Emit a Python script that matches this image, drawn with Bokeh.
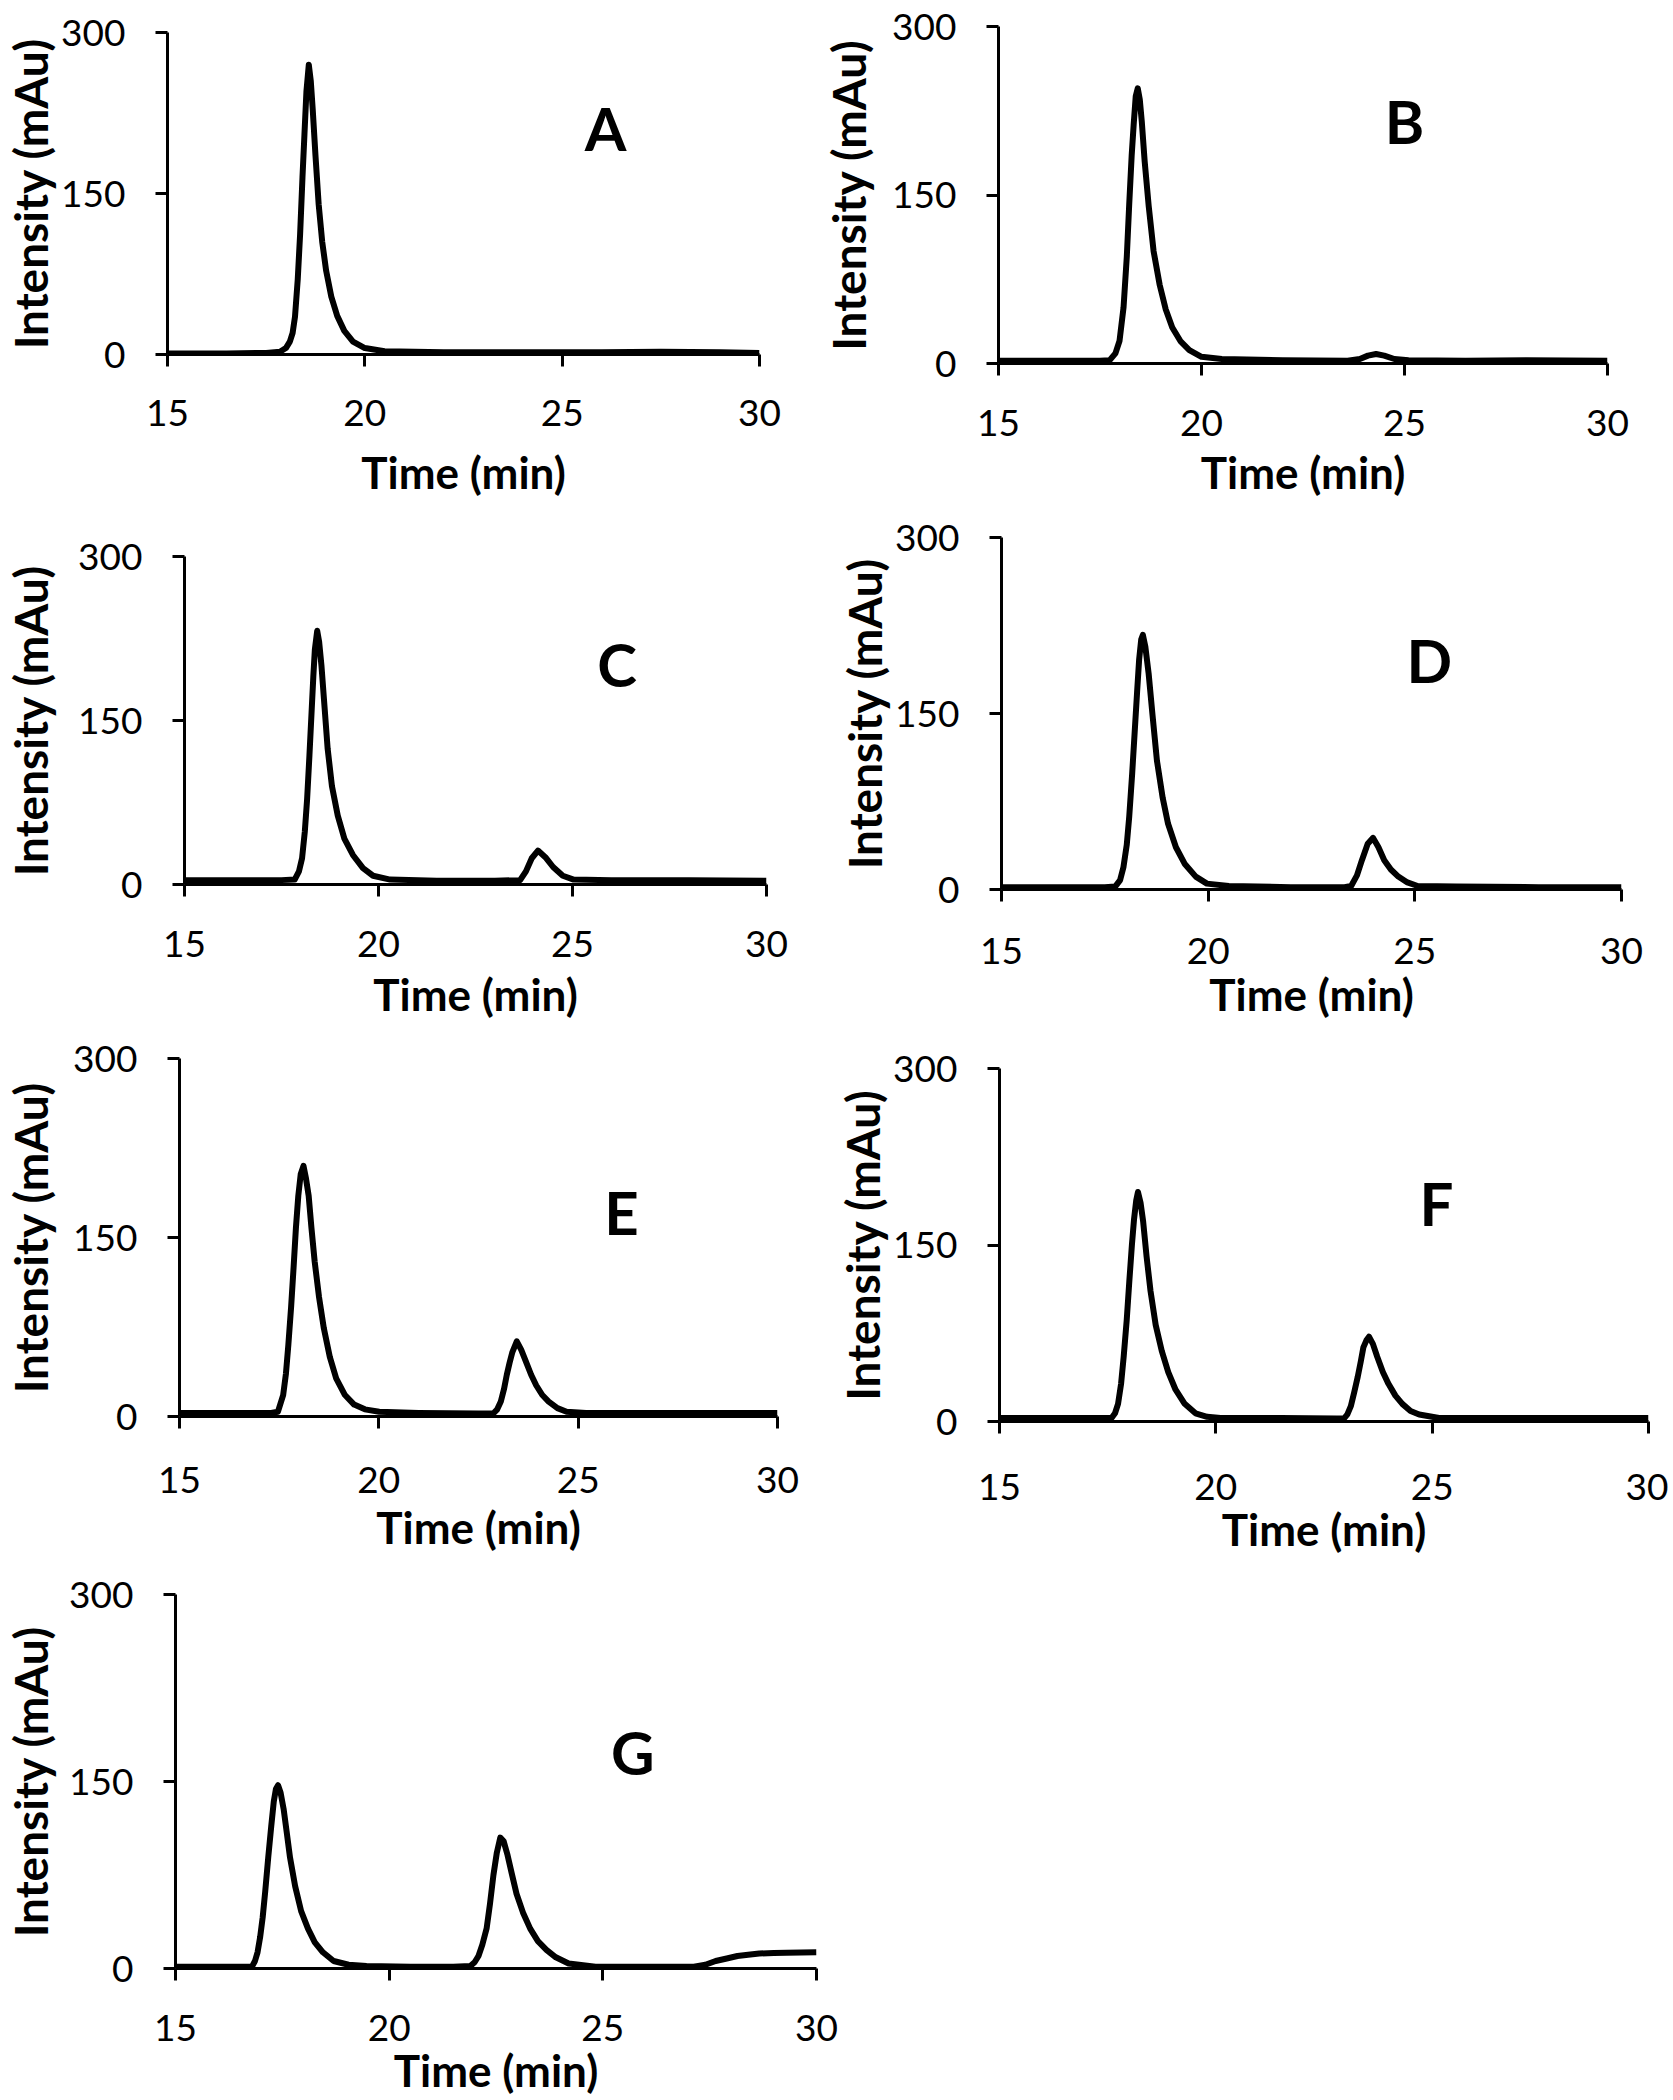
from bokeh.plotting import figure
from bokeh.layouts import column, row
from bokeh.models import Range1d, FixedTicker, Label
from bokeh.embed import file_html
from bokeh.resources import INLINE

# ---------------- data ----------------
x_ticks = [15, 20, 25, 30]
y_ticks = [0, 150, 300]
x_title = "Time (min)"
y_title = "Intensity (mAu)"

t_A = [15.0, 16.5, 17.5, 17.85, 18.0, 18.1, 18.17, 18.23, 18.30, 18.36, 18.42, 18.47, 18.52, 18.58, 18.63,
       18.68, 18.75, 18.83, 18.92, 19.02, 19.15, 19.30, 19.48, 19.70, 20.0, 20.5, 22.0, 24.0, 26.0, 27.5, 29.0, 30.0]
i_A = [1, 1, 1.5, 2.5, 6, 12, 20, 35, 70, 112, 165, 205, 245, 270, 255,
       228, 185, 140, 105, 78, 54, 36, 22, 12, 6, 3, 2, 2, 2, 2.5, 2, 1.5]

t_B = [15.0, 16.5, 17.5, 17.74, 17.88, 17.98, 18.08, 18.16, 18.22, 18.28, 18.33, 18.38, 18.43, 18.48, 18.53,
       18.60, 18.70, 18.82, 18.97, 19.12, 19.28, 19.48, 19.70, 20.0, 20.5, 22.0, 23.6, 23.9, 24.1, 24.3, 24.5,
       24.75, 25.1, 26.5, 28.0, 30.0]
i_B = [2.5, 2.5, 2.5, 3, 9, 20, 50, 95, 142, 185, 213, 238, 245, 235, 215,
       180, 140, 100, 70, 48, 32, 20, 12, 6, 4, 3, 2.5, 4, 7, 8.5, 7,
       4, 3, 2.5, 3, 2.5]

t_C = [15.0, 16.5, 17.5, 17.84, 17.95, 18.03, 18.10, 18.16, 18.22, 18.27, 18.32, 18.36, 18.42, 18.47, 18.53,
       18.61, 18.69, 18.80, 18.95, 19.12, 19.34, 19.60, 19.86, 20.3, 21.5, 23.0, 23.65, 23.8, 23.95, 24.11,
       24.3, 24.5, 24.75, 25.03, 26.0, 28.0, 30.0]
i_C = [4, 4, 4, 4.5, 12, 24, 48, 78, 118, 154, 190, 215, 232, 222, 200,
       162, 124, 90, 63, 42, 27, 15, 8, 4.5, 3.5, 3.5, 4, 12, 24, 31,
       25, 16, 8, 4.5, 4, 4, 3.5]

t_D = [15.0, 16.5, 17.5, 17.75, 17.87, 17.95, 18.03, 18.09, 18.16, 18.22, 18.28, 18.33, 18.38, 18.42, 18.48,
       18.56, 18.65, 18.76, 18.90, 19.03, 19.22, 19.43, 19.70, 19.97, 20.5, 22.0, 23.3, 23.46, 23.6, 23.72,
       23.86, 23.99, 24.12, 24.26, 24.42, 24.6, 24.82, 25.07, 26.0, 28.0, 30.0]
i_D = [2, 2, 2, 2.5, 8, 19, 38, 62, 98, 133, 168, 196, 213, 217, 207,
       184, 150, 110, 78, 56, 36, 22, 11, 5, 3, 2, 2, 3, 12, 25,
       39, 44, 36, 25, 17, 11, 6, 3, 2.5, 2, 2]

t_E = [15.0, 16.5, 17.3, 17.47, 17.60, 17.67, 17.73, 17.80, 17.86, 17.92, 17.98, 18.04, 18.11, 18.17, 18.24,
       18.31, 18.39, 18.50, 18.62, 18.77, 18.93, 19.15, 19.38, 19.65, 20.01, 21.0, 22.5, 22.87, 22.97, 23.06,
       23.14, 23.21, 23.28, 23.35, 23.46, 23.57, 23.69, 23.82, 23.95, 24.10, 24.26, 24.48, 24.71, 25.2, 27.0, 30.0]
i_E = [3, 3, 3, 4, 18, 36, 60, 92, 124, 158, 185, 203, 210, 200, 185,
       158, 130, 100, 74, 50, 32, 18, 10, 6, 4, 3, 2.5, 2.5, 6, 12.5,
       23, 35, 45, 54, 63, 56, 46, 35, 26, 18, 12.5, 7, 4, 3, 3, 3]

t_F = [15.0, 16.5, 17.4, 17.59, 17.67, 17.74, 17.81, 17.87, 17.94, 18.00, 18.06, 18.11, 18.16, 18.20, 18.26,
       18.32, 18.40, 18.49, 18.61, 18.75, 18.90, 19.07, 19.28, 19.53, 19.80, 20.11, 21.5, 22.8, 22.96, 23.04,
       23.12, 23.20, 23.28, 23.35, 23.41, 23.48, 23.54, 23.63, 23.73, 23.86, 23.99, 24.15, 24.31, 24.50, 24.70,
       25.16, 27.0, 30.0]
i_F = [3, 3, 3, 3, 7, 15, 32, 55, 86, 119, 150, 172, 188, 195, 186,
       170, 140, 111, 82, 60, 42, 27, 15, 7, 4, 3, 3, 2.5, 2.5, 6,
       13, 25, 38, 51, 63, 69, 72, 66, 55, 42, 32, 22, 15, 9, 6,
       3, 3, 3]

t_G = [15.0, 16.0, 16.79, 16.86, 16.92, 16.98, 17.04, 17.10, 17.17, 17.24, 17.30, 17.35, 17.40, 17.46, 17.53,
       17.60, 17.68, 17.80, 17.94, 18.10, 18.26, 18.45, 18.70, 19.05, 19.47, 20.5, 21.5, 21.9, 22.00, 22.09,
       22.18, 22.28, 22.36, 22.44, 22.52, 22.60, 22.68, 22.77, 22.87, 22.98, 23.13, 23.30, 23.48, 23.68, 23.90,
       24.20, 24.83, 26.0, 27.13, 27.4, 27.64, 27.9, 28.15, 28.4, 28.66, 29.0, 29.3, 29.65, 30.0]
i_G = [1.5, 1.5, 1.5, 6, 13, 25, 41, 62, 89, 114, 134, 144, 147, 141, 128,
       110, 89, 66, 46, 32, 21, 13, 6, 3, 2, 1.5, 1.5, 2, 5, 10,
       19, 32, 52, 75, 93, 105, 102, 91, 76, 60, 45, 32, 22, 15, 9,
       4, 1.5, 1.5, 1.5, 3, 6, 8, 10, 11, 12, 12.5, 12.6, 12.8, 13]

panel_letters = ["A", "B", "C", "D", "E", "F", "G"]
letter_pos = [(26.1, 211), (25.0, 216), (26.15, 202), (25.35, 196), (26.09, 171), (25.1, 186), (25.7, 174)]

FONT = "Lato"


def make_panel(t, inten, letter, lpos, width, height, bl, br, bt, bb, yals, xls, xals):
    p = figure(width=width, height=height, x_range=Range1d(15, 30), y_range=Range1d(0, 300),
               output_backend="svg", toolbar_location=None,
               min_border_left=bl, min_border_right=br, min_border_top=bt, min_border_bottom=bb,
               background_fill_color="white", border_fill_color="white")
    p.outline_line_color = None
    p.xgrid.visible = False
    p.ygrid.visible = False
    p.line(t, inten, line_color="black", line_width=6, line_join="round")

    for ax in (p.xaxis[0], p.yaxis[0]):
        ax.axis_line_width = 3
        ax.axis_line_color = "black"
        ax.major_tick_line_width = 3
        ax.major_tick_line_color = "black"
        ax.major_tick_in = 0
        ax.major_tick_out = 12
        ax.minor_tick_out = 0
        ax.minor_tick_in = 0
        ax.major_label_text_font = FONT
        ax.major_label_text_font_size = "37px"
        ax.major_label_text_color = "black"
        ax.axis_label_text_font = FONT
        ax.axis_label_text_font_style = "bold"
        ax.axis_label_text_color = "black"

    p.xaxis[0].axis_label_text_font_size = "44px"
    p.yaxis[0].axis_label_text_font_size = "46px"
    p.xaxis[0].ticker = FixedTicker(ticks=x_ticks)
    p.yaxis[0].ticker = FixedTicker(ticks=y_ticks)
    p.xaxis[0].axis_label = x_title
    p.yaxis[0].axis_label = y_title
    p.yaxis[0].major_label_standoff = 30
    p.yaxis[0].axis_label_standoff = yals
    p.xaxis[0].major_label_standoff = xls
    p.xaxis[0].axis_label_standoff = xals

    p.add_layout(Label(x=lpos[0], y=lpos[1], text=letter, text_font=FONT, text_font_size="60px",
                       text_font_style="bold", text_color="black", text_align="center",
                       text_baseline="middle"))
    return column(p, spacing=0)


cA = make_panel(t_A, i_A, "A", letter_pos[0], 808, 512, 166, 49, 32, 158, 0, 33, 17)
cB = make_panel(t_B, i_B, "B", letter_pos[1], 860, 512, 190, 61, 26, 149, 13, 34, 7)
cC = make_panel(t_C, i_C, "C", letter_pos[2], 808, 518, 182, 42, 44, 146, 17, 34, 8)
cD = make_panel(t_D, i_D, "D", letter_pos[3], 860, 518, 193, 47, 25, 141, 0, 36, 1)
cE = make_panel(t_E, i_E, "E", letter_pos[4], 808, 535, 175, 31, 28, 149, 12, 38, 5)
cF = make_panel(t_F, i_F, "F", letter_pos[5], 860, 535, 191, 20, 38, 144, 0, 40, 0)
cG = make_panel(t_G, i_G, "G", letter_pos[6], 860, 533, 171, 44, 29, 130, 8, 34, 0)

layout = column(row(cA, cB, spacing=0), row(cC, cD, spacing=0), row(cE, cF, spacing=0), row(cG, spacing=0),
                spacing=0)

html = file_html(layout, INLINE, title="Chromatograms")
open("out.html", "w").write(html)
